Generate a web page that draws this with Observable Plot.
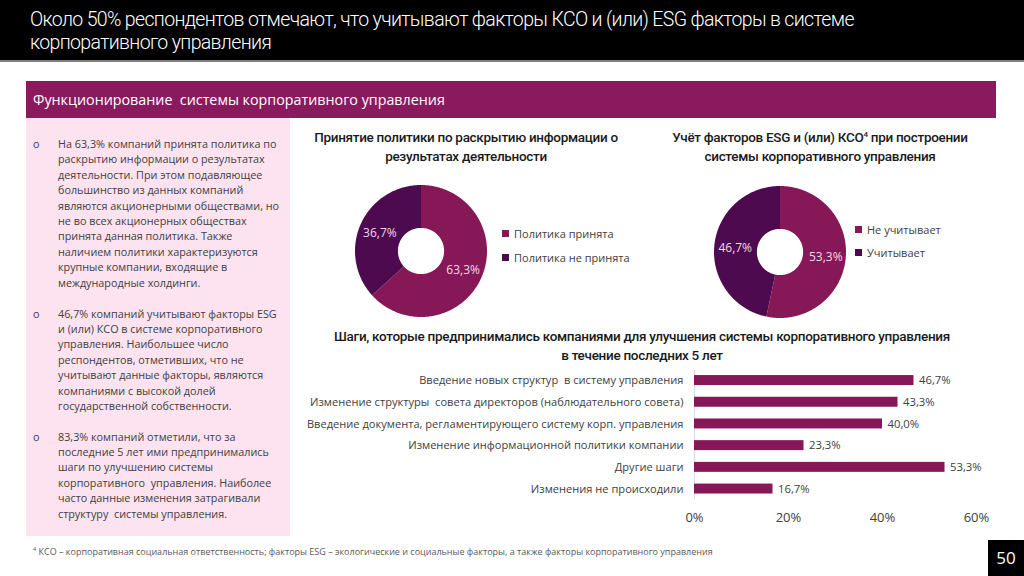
<!DOCTYPE html>
<html lang="ru">
<head>
<meta charset="utf-8">
<script src="https://cdn.jsdelivr.net/npm/d3@7"></script>
<script src="https://cdn.jsdelivr.net/npm/@observablehq/plot@0.6"></script>
<style>
  html, body { margin: 0; padding: 0; background: #fff; }
  #page { position: relative; width: 1024px; height: 576px; overflow: hidden; background: #fff; font-family: "Open Sans", sans-serif; color: #404040; }
  .abs { position: absolute; }
  #header { left: 0; top: 0; width: 1024px; height: 60px; background: #000; border-bottom: 2px solid #7f7f7f; }
  #title { left: 30px; top: 8px; color: #fff; font-family: Roboto, sans-serif; font-weight: 300; font-size: 19.5px; line-height: 23px; letter-spacing: -0.65px; white-space: nowrap; }
  #banner { left: 26px; top: 81px; width: 970px; height: 37px; background: #8a1a5e; color: #fff; font-size: 14.3px; line-height: 37px; padding-left: 7px; box-sizing: border-box; white-space: nowrap; }
  #panel { left: 26px; top: 118px; width: 264px; height: 418px; background: #fde3ef; }
  .para { position: absolute; left: 0; font-size: 10.8px; line-height: 15.4px; white-space: nowrap; color: #404040; }
  .para .bullet { position: absolute; left: 7px; top: 0; }
  .para .txt { position: absolute; left: 32px; top: 0; }
  .ctitle { font-family: Roboto, sans-serif; font-weight: 500; font-size: 13.5px; line-height: 18.5px; color: #1a1a1a; text-align: center; white-space: nowrap; letter-spacing: -0.3px; }
  .legend { font-size: 11px; color: #404040; white-space: nowrap; }
  .legend .item { position: absolute; left: 0; display: flex; align-items: center; height: 14px; }
  .legend .sw { width: 7px; height: 7px; margin-right: 5px; }
  #foot { left: 33px; top: 545px; font-size: 9px; color: #595959; white-space: nowrap; }
  #pageno { left: 988px; top: 540px; width: 36px; height: 36px; background: #000; color: #fff; font-size: 17px; line-height: 36px; text-align: center; }
  #bars svg [aria-label^="x-axis"] text { font-size: 13px; }
</style>
</head>
<body>
<div id="page">
  <div id="header" class="abs"></div>
  <div id="title" class="abs">Около 50% респондентов отмечают, что учитывают факторы КСО и (или) ESG факторы в системе<br>корпоративного управления</div>
  <div id="banner" class="abs">Функционирование&nbsp; системы корпоративного управления</div>
  <div id="panel" class="abs">
    <div class="para" style="top:18px"><span class="bullet">o</span><span class="txt">На 63,3% компаний принята политика по<br>раскрытию информации о результатах<br>деятельности. При этом подавляющее<br>большинство из данных компаний<br>являются акционерными обществами, но<br>не во всех акционерных обществах<br>принята данная политика. Также<br>наличием политики характеризуются<br>крупные компании, входящие в<br>международные холдинги.</span></div>
    <div class="para" style="top:187.5px"><span class="bullet">o</span><span class="txt">46,7% компаний учитывают факторы ESG<br>и (или) КСО в системе корпоративного<br>управления. Наибольшее число<br>респондентов, отметивших, что не<br>учитывают данные факторы, являются<br>компаниями с высокой долей<br>государственной собственности.</span></div>
    <div class="para" style="top:310.5px"><span class="bullet">o</span><span class="txt">83,3% компаний отметили, что за<br>последние 5 лет ими предпринимались<br>шаги по улучшению системы<br>корпоративного&nbsp; управления. Наиболее<br>часто данные изменения затрагивали<br>структуру&nbsp; системы управления.</span></div>
  </div>

  <div class="abs ctitle" style="left:266px; width:400px; top:128px">Принятие политики по раскрытию информации о<br>результатах деятельности</div>
  <div class="abs ctitle" style="left:620px; width:400px; top:128px">Учёт факторов ESG и (или) КСО<sup style="font-size:8px; line-height:0">4</sup> при построении<br>системы корпоративного управления</div>
  <div class="abs ctitle" style="left:292px; width:700px; top:327px">Шаги, которые предпринимались компаниями для улучшения системы корпоративного управления<br>в течение последних 5 лет</div>

  <div id="pie1" class="abs" style="left:353px; top:183px"></div>
  <div id="pie2" class="abs" style="left:712px; top:184px"></div>
  <div id="legend1" class="abs legend" style="left:502px; top:226px"></div>
  <div id="legend2" class="abs legend" style="left:855px; top:222px"></div>
  <div id="bars" class="abs" style="left:300px; top:365px"></div>

  <div id="foot" class="abs"><sup style="font-size:5.5px">4</sup> КСО – корпоративная социальная ответственность; факторы ESG – экологические и социальные факторы, а также факторы корпоративного управления</div>
  <div id="pageno" class="abs">50</div>
</div>
<script>
// Pie 1: disclosure policy adoption
const policyLabels = ["Политика принята", "Политика не принята"];
const policyValues = [63.3, 36.7];

// Pie 2: ESG / CSR factors in corporate governance
const esgLabels = ["Не учитывает", "Учитывает"];
const esgValues = [53.3, 46.7];

// Bars: governance improvement steps over the last 5 years
const stepLabels = [
  "Введение новых структур  в систему управления",
  "Изменение структуры  совета директоров (наблюдательного совета)",
  "Введение документа, регламентирующего систему корп. управления",
  "Изменение информационной политики компании",
  "Другие шаги",
  "Изменения не происходили"
];
const stepValues = [46.7, 43.3, 40.0, 23.3, 53.3, 16.7];
const xTicks = [0, 20, 40, 60];

const sliceColors = ["#861858", "#4e0a4f"];
const barColor = "#861858";

const pct = v => v.toFixed(1).replace(".", ",") + "%";

// Donut built from Plot.area bands: outer arc forward, inner arc back.
function donut(labels, values) {
  const inner = 0.35, labelR = 0.69;
  const total = d3.sum(values);
  let acc = 0;
  const slices = labels.map((label, i) => {
    const a0 = acc / total * 2 * Math.PI;
    acc += values[i];
    const a1 = acc / total * 2 * Math.PI;
    return {label, value: values[i], a0, a1, mid: (a0 + a1) / 2};
  });
  const edge = slices.flatMap(s => {
    const n = Math.max(2, Math.ceil((s.a1 - s.a0) / (Math.PI / 180)));
    return d3.range(n + 1).map(k => {
      const t = s.a0 + (s.a1 - s.a0) * k / n;
      return {label: s.label, ox: Math.sin(t), oy: Math.cos(t), ix: inner * Math.sin(t), iy: inner * Math.cos(t)};
    });
  });
  return Plot.plot({
    width: 136, height: 136, margin: 2,
    x: {domain: [-1, 1], axis: null},
    y: {domain: [-1, 1], axis: null},
    color: {domain: labels, range: sliceColors},
    style: {fontFamily: "'Open Sans', sans-serif", background: "transparent", overflow: "visible"},
    marks: [
      Plot.area(edge, {x1: "ox", y1: "oy", x2: "ix", y2: "iy", z: "label", fill: "label", curve: "linear"}),
      Plot.text(slices, {
        x: d => labelR * Math.sin(d.mid), y: d => labelR * Math.cos(d.mid),
        text: d => pct(d.value), fill: "#f3d8e8", fontSize: 12
      })
    ]
  });
}

function legend(el, labels, gap) {
  labels.forEach((l, i) => {
    const item = document.createElement("div");
    item.className = "item";
    item.style.top = (i * gap) + "px";
    const sw = document.createElement("span");
    sw.className = "sw";
    sw.style.background = sliceColors[i];
    item.appendChild(sw);
    item.appendChild(document.createTextNode(l));
    el.appendChild(item);
  });
}

document.getElementById("pie1").appendChild(donut(policyLabels, policyValues));
document.getElementById("pie2").appendChild(donut(esgLabels, esgValues));
legend(document.getElementById("legend1"), policyLabels, 24);
legend(document.getElementById("legend2"), esgLabels, 23.5);

const steps = stepLabels.map((label, i) => ({label, value: stepValues[i]}));

document.getElementById("bars").appendChild(Plot.plot({
  width: 700, height: 165,
  marginLeft: 394, marginRight: 24, marginTop: 4.2, marginBottom: 30.6,
  style: {fontFamily: "'Open Sans', sans-serif", fontSize: "11.1px", color: "#404040", background: "transparent", overflow: "visible"},
  x: {domain: [0, 60], ticks: xTicks, tickFormat: d => d + "%", tickSize: 0, tickPadding: 13, label: null},
  y: {domain: stepLabels, paddingInner: 0.54, paddingOuter: 0.27, round: false, tickSize: 0, tickPadding: 11, label: null},
  marks: [
    Plot.ruleX([0], {stroke: "#d9d9d9", strokeWidth: 1}),
    Plot.barX(steps, {x: "value", y: "label", fill: barColor}),
    Plot.text(steps, {x: "value", y: "label", text: d => pct(d.value), dx: 5, textAnchor: "start", fontSize: 11.3, fill: "#404040"})
  ]
}));
</script>
</body>
</html>
